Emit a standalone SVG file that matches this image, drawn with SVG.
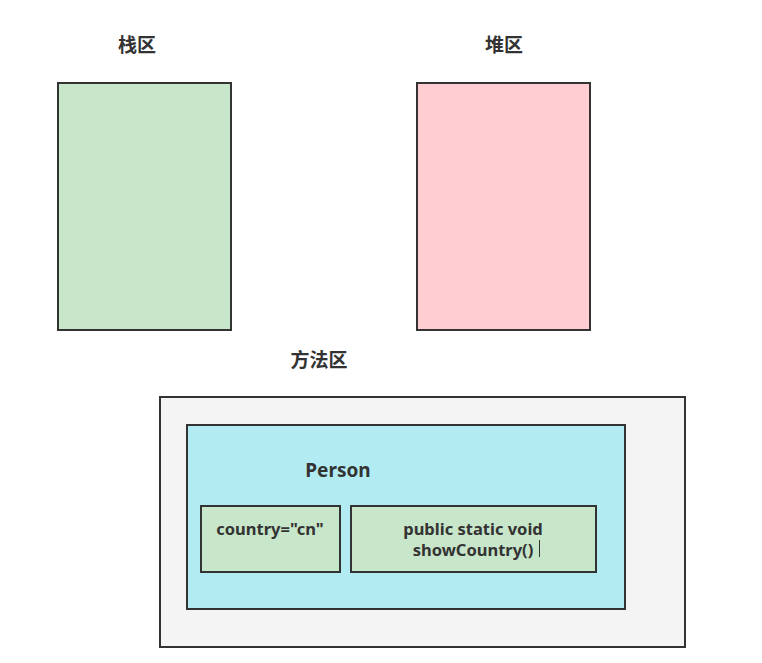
<svg xmlns="http://www.w3.org/2000/svg" width="762" height="663" viewBox="0 0 762 663">
<style>
.box{stroke:#333333;stroke-width:2}
.t{font-family:"Noto Sans","Noto Sans CJK SC",sans-serif;font-weight:bold;fill:#333333;text-anchor:middle}
</style>
<rect width="762" height="663" fill="#ffffff"/>
<g id="stack">
<text class="t" x="137" y="52" font-size="19">栈区</text>
<rect class="box" x="58" y="83" width="173" height="247" fill="#c8e6c9"/>
</g>
<g id="heap">
<text class="t" x="504" y="52" font-size="19">堆区</text>
<rect class="box" x="417" y="83" width="173" height="247" fill="#ffcdd2"/>
</g>
<g id="method-area">
<text class="t" x="319" y="367" font-size="19">方法区</text>
<rect class="box" x="160" y="397" width="525" height="250" fill="#f4f4f4"/>
</g>
<g id="person">
<rect class="box" x="187" y="425" width="438" height="184" fill="#b2ebf2"/>
<text class="t" x="338" y="477" font-size="19">Person</text>
</g>
<g id="country">
<rect class="box" x="201" y="506" width="139" height="66" fill="#c8e6c9"/>
<text class="t" x="270" y="535" font-size="16.5">country="cn"</text>
</g>
<g id="show-country">
<rect class="box" x="351" y="506" width="245" height="66" fill="#c8e6c9"/>
<text class="t" x="473" y="535" font-size="16.5">public static void</text>
<text class="t" x="473" y="556" font-size="16.5">showCountry()</text>
<line x1="539.5" y1="540" x2="539.5" y2="557" stroke="#333333" stroke-width="1"/>
</g>
<g id="connectors"></g>
</svg>
